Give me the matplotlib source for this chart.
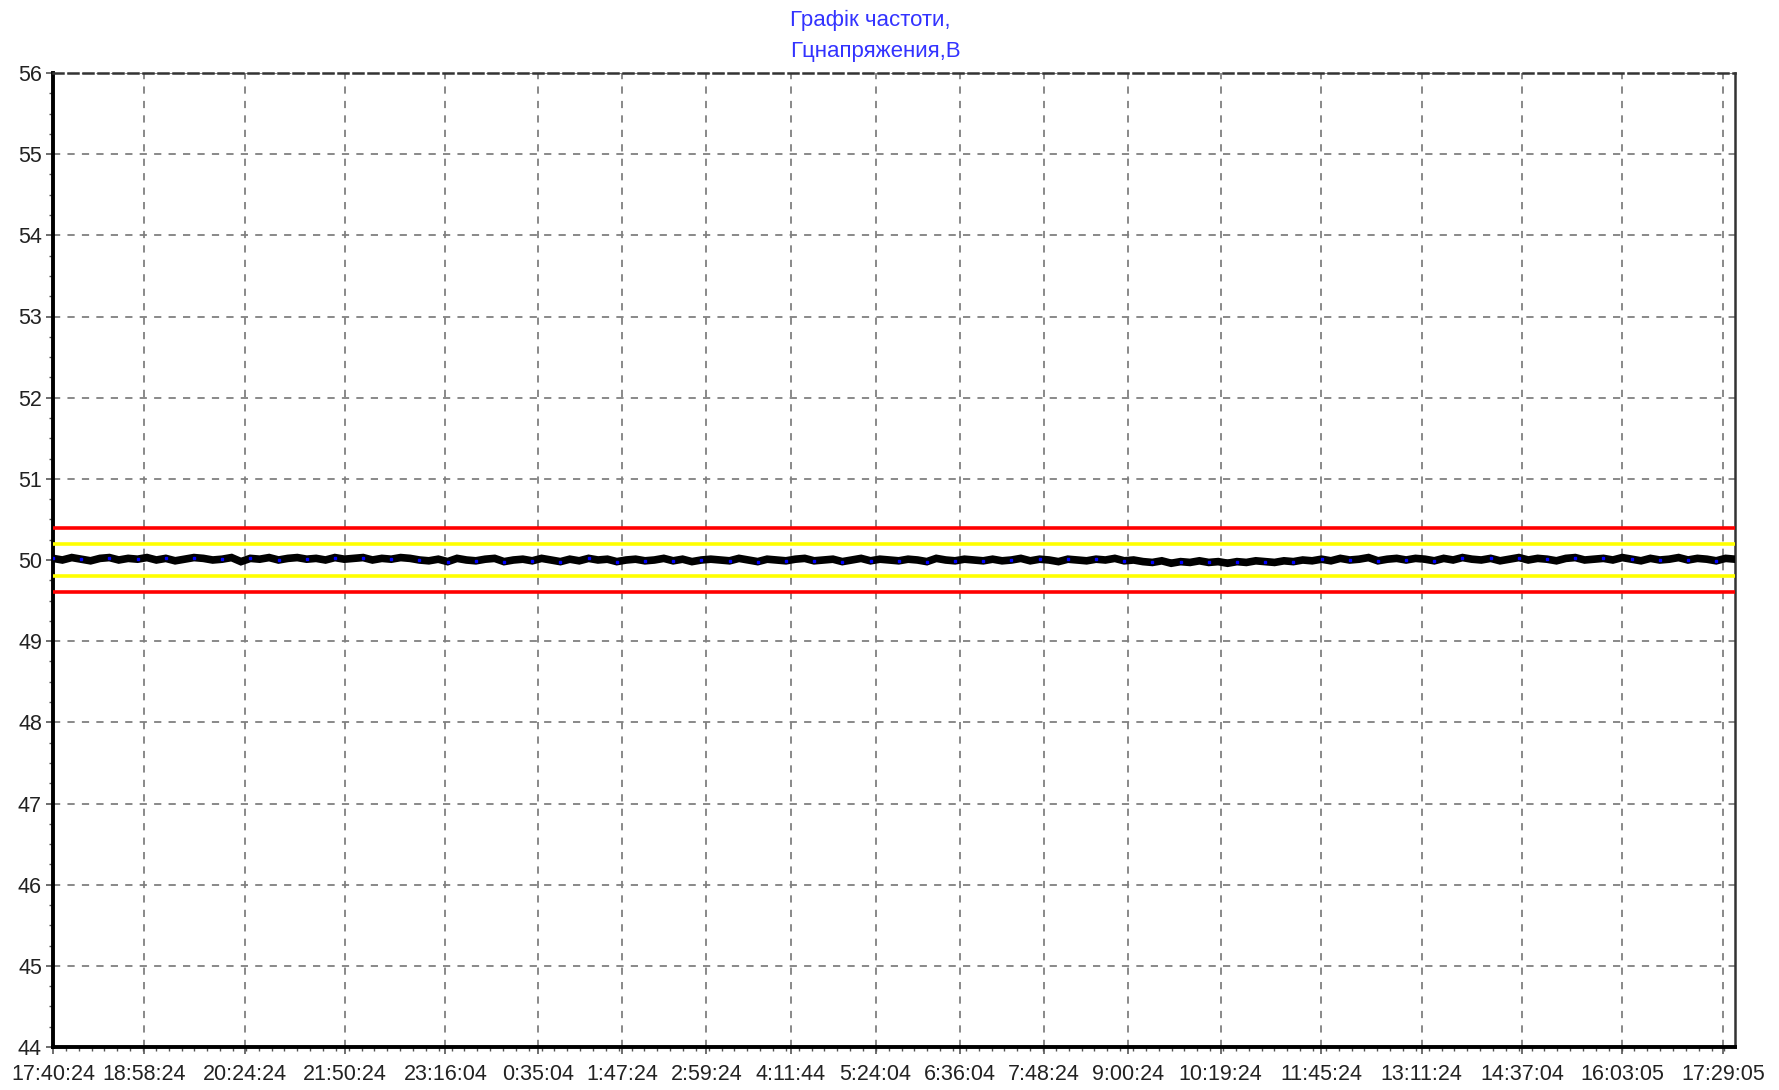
from datetime import datetime
import numpy as np
import matplotlib.pyplot as plt
from matplotlib.ticker import MultipleLocator

# time axis labels as they appear on the chart
tick_labels = ["17:40:24", "18:58:24", "20:24:24", "21:50:24", "23:16:04", "0:35:04",
               "1:47:24", "2:59:24", "4:11:44", "5:24:04", "6:36:04", "7:48:24",
               "9:00:24", "10:19:24", "11:45:24", "13:11:24", "14:37:04", "16:03:05",
               "17:29:05"]

# frequency readings (Hz)
freq = [
    # 17:40 - 21:50, slightly above 50
    50.02, 50.00, 50.03, 50.01, 49.99, 50.02, 50.03, 50.00, 50.02, 50.01,
    50.03, 50.00, 50.02, 49.99, 50.01, 50.03, 50.02, 50.00, 50.01, 50.03,
    49.98, 50.02, 50.01, 50.03, 50.00, 50.02, 50.03, 50.01, 50.02, 50.00,
    50.03, 50.01, 50.02, 50.03, 50.00, 50.02, 50.01, 50.03, 50.02, 50.00,
    # 21:50 - 9:40, around 50
    49.99, 50.01, 49.98, 50.02, 50.00, 49.99, 50.01, 50.02, 49.98, 50.00,
    50.01, 49.99, 50.02, 50.00, 49.98, 50.01, 49.99, 50.02, 50.00, 50.01,
    49.98, 50.00, 50.01, 49.99, 50.00, 50.02, 49.99, 50.01, 49.98, 50.00,
    50.01, 50.00, 49.99, 50.02, 50.00, 49.98, 50.01, 50.00, 49.99, 50.01,
    50.02, 49.99, 50.00, 50.01, 49.98, 50.00, 50.02, 49.99, 50.01, 50.00,
    49.99, 50.01, 50.00, 49.98, 50.02, 50.00, 49.99, 50.01, 50.00, 49.99,
    50.01, 49.99, 50.00, 50.02, 49.99, 50.01, 50.00, 49.98, 50.01, 50.00,
    49.99, 50.01, 50.00, 50.02, 49.99,
    # 9:40 - 11:30, small dip
    50.00, 49.98, 49.97, 49.99, 49.96, 49.98, 49.97, 49.99, 49.97, 49.98,
    49.96, 49.98, 49.97, 49.99, 49.98, 49.97, 49.99, 49.98, 50.00, 49.99,
    # 11:30 - 17:40
    50.01, 49.99, 50.02, 50.00, 50.01, 50.03, 49.99, 50.01, 50.02, 50.00,
    50.02, 50.01, 49.99, 50.02, 50.00, 50.03, 50.01, 50.00, 50.02, 49.99,
    50.01, 50.03, 50.00, 50.02, 50.01, 49.99, 50.02, 50.03, 50.00, 50.01,
    50.02, 50.00, 50.03, 50.01, 49.99, 50.02, 50.00, 50.01, 50.03, 50.00,
    50.02, 50.01, 49.99, 50.02, 50.01,
]

# limits (Hz)
red_limits = [50.4, 49.6]
yellow_limits = [50.2, 49.8]


def label_minutes(labels):
    # minutes elapsed since the first label, rolling over midnight
    out = []
    t0 = datetime.strptime(labels[0], "%H:%M:%S")
    start = t0.hour * 60 + t0.minute + t0.second / 60
    day = 0
    prev = None
    for s in labels:
        t = datetime.strptime(s, "%H:%M:%S")
        m = t.hour * 60 + t.minute + t.second / 60
        if prev is not None and m < prev:
            day += 1
        prev = m
        out.append(m + day * 1440 - start)
    return np.array(out)


tick_pos = label_minutes(tick_labels)
x_end = tick_pos[-1] + 10.3
x = np.linspace(0, x_end, len(freq))

fig = plt.figure(figsize=(17.79, 10.90), dpi=100)
ax = fig.add_axes([53 / 1779, 1 - 1047 / 1090, (1735 - 53) / 1779, (1047 - 73) / 1090])

ax.set_xlim(0, x_end)
ax.set_ylim(44, 56)

ax.grid(True, which="major", color="#808080", linestyle=(0, (4, 4)), linewidth=1.3)

for v in red_limits:
    ax.axhline(v, color="#ff0000", linewidth=2.6, zorder=3)
for v in yellow_limits:
    ax.axhline(v, color="#ffff00", linewidth=2.6, zorder=3)

ax.plot(x, freq, color="black", linewidth=5.5, solid_joinstyle="miter", zorder=4)
ax.plot(x, freq, linestyle="none", marker="s", markersize=1.6, color="#0000ff",
        markevery=3, zorder=5)

ax.set_xticks(tick_pos)
ax.set_xticklabels(tick_labels)
ax.xaxis.set_minor_locator(MultipleLocator(11))
ax.yaxis.set_major_locator(MultipleLocator(1))
ax.yaxis.set_minor_locator(MultipleLocator(0.25))

ax.tick_params(axis="both", which="major", length=5, width=1.2, color="#555555",
               labelsize=15.5, labelcolor="#222222", pad=3)
ax.tick_params(axis="x", which="major", pad=7)
ax.tick_params(axis="both", which="minor", length=3, width=1, color="#555555")
for lbl in ax.get_xticklabels() + ax.get_yticklabels():
    lbl.set_fontfamily("Liberation Sans")

ax.spines["left"].set_linewidth(2.8)
ax.spines["left"].set_color("black")
ax.spines["bottom"].set_linewidth(2.8)
ax.spines["bottom"].set_color("black")
ax.spines["right"].set_linewidth(1.8)
ax.spines["right"].set_color("#333333")
ax.spines["top"].set_linewidth(1.8)
ax.spines["top"].set_color("#333333")
ax.spines["top"].set_linestyle((0, (4, 2)))

fig.text(790 / 1779, 1 - 10 / 1090, "Графік частоти,\nГцнапряжения,В",
         ha="left", va="top", color="#3333ff", fontsize=16,
         family="Liberation Sans", linespacing=1.6)

fig.savefig("out.png", dpi=100)
